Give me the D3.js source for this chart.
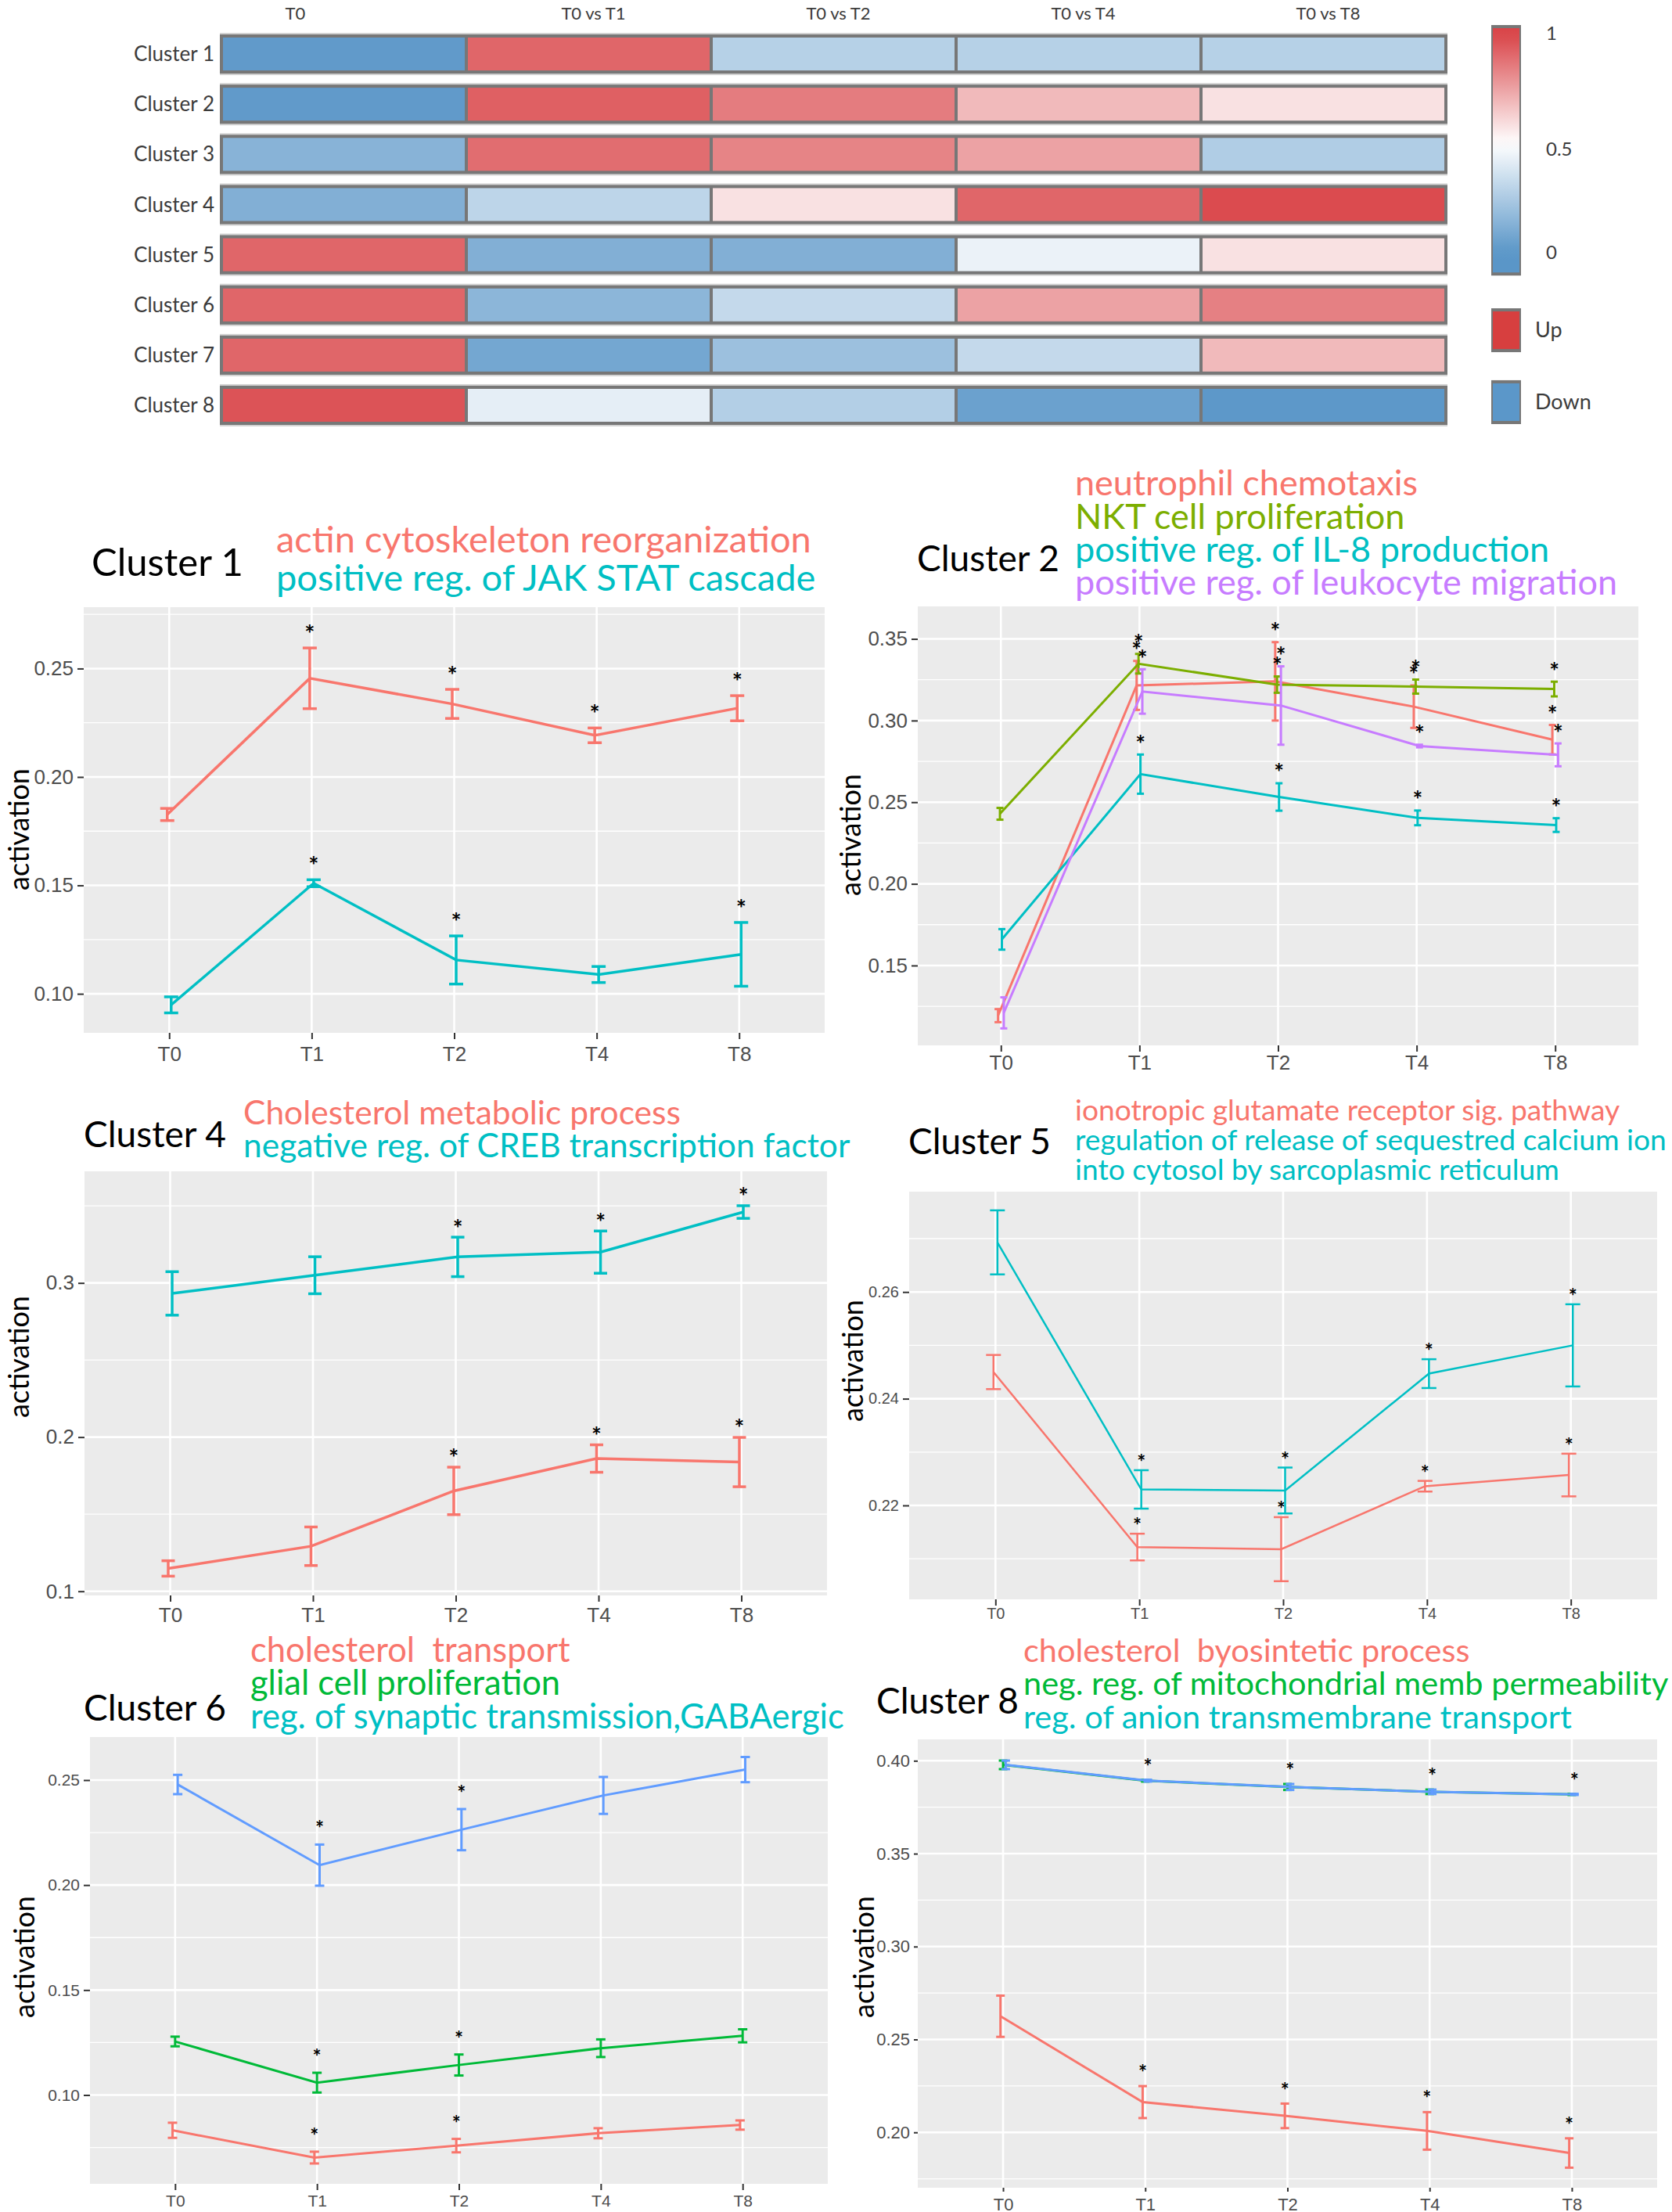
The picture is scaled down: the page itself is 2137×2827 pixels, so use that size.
<!DOCTYPE html>
<html>
<head>
<meta charset="utf-8">
<script src="https://cdn.jsdelivr.net/npm/d3@7"></script>
<style>
  body { margin: 0; background: #fff; }
  text { font-family: Lato, "Open Sans", sans-serif; white-space: pre; }
  .axis text { font-family: "Liberation Sans", Arial, sans-serif; fill: #4d4d4d; }
  .axis line { stroke: #333; stroke-width: 2; }
</style>
</head>
<body>
<svg id="fig" width="2137" height="2827"></svg>
<script>
'use strict'

// ---- heatmap data ----
var hmCols = ['T0', 'T0 vs T1', 'T0 vs T2', 'T0 vs T4', 'T0 vs T8']
var hmRows = ['Cluster 1', 'Cluster 2', 'Cluster 3', 'Cluster 4', 'Cluster 5', 'Cluster 6', 'Cluster 7', 'Cluster 8']
var hmValues = [
  [0.02, 0.91, 0.28, 0.28, 0.28],
  [0.02, 0.925, 0.85, 0.685, 0.58],
  [0.14, 0.89, 0.83, 0.75, 0.26],
  [0.12, 0.30, 0.58, 0.91, 0.98],
  [0.91, 0.12, 0.12, 0.44, 0.58],
  [0.91, 0.15, 0.32, 0.75, 0.84],
  [0.91, 0.08, 0.20, 0.32, 0.685],
  [0.96, 0.42, 0.27, 0.05, 0.01]
]
var legendTicks = [0, 0.5, 1]
var legendCats = ['Up', 'Down']

// ---- line panels data ----
var times = ['T0', 'T1', 'T2', 'T4', 'T8']

var c1Labels = ['actin cytoskeleton reorganization', 'positive reg. of JAK STAT cascade']
var c1Mean = [[0.1827, 0.2455, 0.2337, 0.2192, 0.2317],
              [0.0949, 0.1510, 0.1156, 0.1089, 0.1182]]
var c1Err = [[0.0028, 0.014, 0.0067, 0.0034, 0.0058],
             [0.0037, 0.0016, 0.0111, 0.0037, 0.0147]]
var c1Stars = [[0, 1, 1, 1, 1], [0, 1, 1, 0, 1]]
var c1Ticks = [0.10, 0.15, 0.20, 0.25]

var c2Labels = ['neutrophil chemotaxis', 'NKT cell proliferation', 'positive reg. of IL-8 production', 'positive reg. of leukocyte migration']
var c2Mean = [[0.1193, 0.3215, 0.3240, 0.3085, 0.2883],
              [0.2429, 0.3348, 0.3220, 0.3208, 0.3193],
              [0.1660, 0.2672, 0.2532, 0.2404, 0.2360],
              [0.1210, 0.3178, 0.3092, 0.2844, 0.2790]]
var c2Err = [[0.004, 0.015, 0.024, 0.013, 0.009],
             [0.0036, 0.006, 0.005, 0.0043, 0.0045],
             [0.0063, 0.012, 0.0084, 0.0045, 0.0042],
             [0.0095, 0.0136, 0.024, 0.0008, 0.007]]
var c2Stars = [[0, 1, 1, 1, 1], [0, 1, 1, 1, 1], [0, 1, 1, 1, 1], [0, 1, 1, 1, 1]]
var c2Ticks = [0.15, 0.20, 0.25, 0.30, 0.35]

var c4Labels = ['Cholesterol metabolic process', 'negative reg. of CREB transcription factor']
var c4Mean = [[0.1148, 0.1292, 0.1651, 0.1861, 0.1838],
              [0.2932, 0.3050, 0.3169, 0.3200, 0.3460]]
var c4Err = [[0.005, 0.0125, 0.0154, 0.0089, 0.016],
             [0.0141, 0.012, 0.0128, 0.0137, 0.0041]]
var c4Stars = [[0, 0, 1, 1, 1], [0, 0, 1, 1, 1]]
var c4Ticks = [0.1, 0.2, 0.3]

var c5Labels = ['ionotropic glutamate receptor sig. pathway', 'regulation of release of sequestred calcium ion', 'into cytosol by sarcoplasmic reticulum']
var c5Mean = [[0.2450, 0.2122, 0.2118, 0.2236, 0.2257],
              [0.2693, 0.2230, 0.2228, 0.2447, 0.2500]]
var c5Err = [[0.0032, 0.0025, 0.006, 0.001, 0.004],
             [0.006, 0.0036, 0.0043, 0.0027, 0.0077]]
var c5Stars = [[0, 1, 1, 1, 1], [0, 1, 1, 1, 1]]
var c5Ticks = [0.22, 0.24, 0.26]

var c6Labels = ['cholesterol  transport', 'glial cell proliferation', 'reg. of synaptic transmission,GABAergic']
var c6Mean = [[0.0832, 0.0702, 0.0759, 0.0818, 0.0857],
              [0.1255, 0.1059, 0.1143, 0.1223, 0.1282],
              [0.2479, 0.2095, 0.2264, 0.2427, 0.2550]]
var c6Err = [[0.0036, 0.0028, 0.0032, 0.0024, 0.0022],
             [0.0023, 0.0047, 0.005, 0.0042, 0.0031],
             [0.0046, 0.0098, 0.0098, 0.0088, 0.006]]
var c6Stars = [[0, 1, 1, 0, 0], [0, 1, 1, 0, 0], [0, 1, 1, 0, 0]]
var c6Ticks = [0.10, 0.15, 0.20, 0.25]

var c8Labels = ['cholesterol  byosintetic process', 'neg. reg. of mitochondrial memb permeability', 'reg. of anion transmembrane transport']
var c8Mean = [[0.2625, 0.2163, 0.2089, 0.2008, 0.1889],
              [0.3978, 0.3893, 0.3859, 0.3833, 0.3819],
              [0.3978, 0.3893, 0.3859, 0.3833, 0.3819]]
var c8Err = [[0.0111, 0.0086, 0.0066, 0.0101, 0.0079],
             [0.0023, 0.0005, 0.0016, 0.0012, 0.0003],
             [0.0023, 0.0005, 0.0016, 0.0012, 0.0003]]
// green and blue overlap exactly, so only one star row shows
var c8Stars = [[0, 1, 1, 1, 1], [0, 0, 0, 0, 0], [0, 1, 1, 1, 1]]
var c8Ticks = [0.20, 0.25, 0.30, 0.35, 0.40]

var RED = '#F8766D', CYAN = '#00BFC4', OLIVE = '#7CAE00', PURPLE = '#C77CFF', GREEN = '#00BA38', BLUE = '#619CFF'

// layout of each panel (pixels), data comes from arrays above
var panels = [
  {title: 'Cluster 1', mean: c1Mean, err: c1Err, stars: c1Stars, ticks: c1Ticks, fmt: '.2f',
   lines: c1Labels, lineColors: [RED, CYAN], colors: [RED, CYAN],
   box: [107, 776, 1054, 1320], yDom: [0.082, 0.2783],
   titleX: 117, titleY: 718, titleSize: 49, subX: 353, subY: [690, 739], subSize: 47,
   tickSize: 26, tickLen: 8, xPad: 10, lw: 3.5, cap: 9, starOff: 25, starSize: 31, ylab: [24, 1060]},
  {title: 'Cluster 2', mean: c2Mean, err: c2Err, stars: c2Stars, ticks: c2Ticks, fmt: '.2f',
   lines: c2Labels, lineColors: [RED, OLIVE, CYAN, PURPLE], colors: [RED, OLIVE, CYAN, PURPLE],
   box: [1173, 775, 2094, 1336], yDom: [0.1011, 0.3699],
   titleX: 1172, titleY: 713, titleSize: 46, subX: 1374, subY: [618, 661, 703, 745], subSize: 45,
   tickSize: 26, tickLen: 8, xPad: 5, lw: 3, cap: 4.5, starOff: 20, starSize: 30, ylab: [1087, 1067]},
  {title: 'Cluster 4', mean: c4Mean, err: c4Err, stars: c4Stars, ticks: c4Ticks, fmt: '.1f',
   lines: c4Labels, lineColors: [RED, CYAN], colors: [RED, CYAN],
   box: [108, 1497, 1057, 2039], yDom: [0.0973, 0.3724],
   titleX: 107, titleY: 1449, titleSize: 46, subX: 311, subY: [1423, 1465], subSize: 42.5,
   tickSize: 26, tickLen: 8, xPad: 8, lw: 3.5, cap: 8.5, starOff: 18, starSize: 30, ylab: [24, 1734]},
  {title: 'Cluster 5', mean: c5Mean, err: c5Err, stars: c5Stars, ticks: c5Ticks, fmt: '.2f',
   lines: c5Labels, lineColors: [RED, CYAN, CYAN], colors: [RED, CYAN],
   box: [1162, 1523, 2118, 2044], yDom: [0.2024, 0.2788],
   titleX: 1161, titleY: 1458, titleSize: 46, subX: 1374, subY: [1420, 1458, 1496], subSize: 37.2,
   tickSize: 20, tickLen: 8, xPad: 3, lw: 2.5, cap: 9.5, starOff: 16, starSize: 26, ylab: [1090, 1739]},
  {title: 'Cluster 6', mean: c6Mean, err: c6Err, stars: c6Stars, ticks: c6Ticks, fmt: '.2f',
   lines: c6Labels, lineColors: [RED, GREEN, CYAN], colors: [RED, GREEN, BLUE],
   box: [115, 2220, 1058, 2791], yDom: [0.0577, 0.2705],
   titleX: 107, titleY: 2182, titleSize: 46, subX: 320, subY: [2110, 2152, 2195], subSize: 43.5,
   tickSize: 21, tickLen: 8, xPad: 6, lw: 3, cap: 6, starOff: 26, starSize: 26, ylab: [31, 2501]},
  {title: 'Cluster 8', mean: c8Mean, err: c8Err, stars: c8Stars, ticks: c8Ticks, fmt: '.2f',
   lines: c8Labels, lineColors: [RED, GREEN, CYAN], colors: [RED, GREEN, BLUE],
   box: [1173, 2223, 2118, 2796], yDom: [0.1702, 0.4115],
   titleX: 1120, titleY: 2173, titleSize: 46, subX: 1308, subY: [2110, 2152, 2195], subSize: 41.5,
   tickSize: 22, tickLen: 5, xPad: 8, lw: 3, cap: 5.5, starOff: 23, starSize: 26, ylab: [1104, 2501]}
]

var svg = d3.select('#fig')
svg.append('rect').attr('width', 2137).attr('height', 2827).attr('fill', '#fff')

// ================= heatmap =================
var hx = d3.scaleBand().domain(hmCols).range([283, 1848])
var hy = d3.scaleBand().domain(hmRows).range([44, 543]).paddingInner(0.22)
var hcolor = d3.scaleLinear().domain([0, 0.5, 1]).range(['#5a96c8', '#ffffff', '#d94448']).clamp(true)

var hm = svg.append('g')

// the first column label sits left of its column in the original
hm.selectAll('.collab')
  .data(hmCols)
  .enter().append('text')
    .attr('x', (d, i) => hx(d) + hx.bandwidth() / 2 + (i === 0 ? -62 : 6))
    .attr('y', 17)
    .attr('dy', '0.35em')
    .attr('text-anchor', 'middle')
    .attr('font-size', 22)
    .attr('fill', '#3b3b3b')
    .text(d => d)

var rows = hm.selectAll('.hrow')
  .data(hmRows)
  .enter().append('g')
    .attr('transform', d => 'translate(0,' + hy(d) + ')')

rows.append('rect')
  .attr('x', 281).attr('y', -2)
  .attr('width', 1569).attr('height', hy.bandwidth() + 4)
  .attr('fill', '#d2d2d2')
rows.append('rect')
  .attr('x', 281).attr('y', 0)
  .attr('width', 1569).attr('height', hy.bandwidth())
  .attr('fill', '#777')
rows.append('text')
  .attr('x', 274)
  .attr('y', hy.bandwidth() / 2)
  .attr('dy', '0.35em')
  .attr('text-anchor', 'end')
  .attr('font-size', 26)
  .attr('fill', '#3b3b3b')
  .text(d => d)

rows.each(function (r, i) {
  d3.select(this).selectAll('.cell')
    .data(hmValues[i])
    .enter().append('rect')
      .attr('x', (v, j) => hx(hmCols[j]) + 2)
      .attr('y', 4)
      .attr('width', hx.bandwidth() - 4)
      .attr('height', hy.bandwidth() - 8)
      .attr('fill', v => hcolor(v))
})

// colour bar legend
var ly = d3.scaleLinear().domain([0, 1]).range([323, 43])
var grad = svg.append('defs').append('linearGradient')
  .attr('id', 'cbar').attr('x1', 0).attr('x2', 0).attr('y1', 1).attr('y2', 0)
var gradVals = d3.range(0, 21).map(i => -0.09 + i * (1.025 + 0.09) / 20)
grad.selectAll('stop')
  .data(gradVals)
  .enter().append('stop')
    .attr('offset', (d, i) => i / 20)
    .attr('stop-color', d => hcolor(d))

svg.append('rect')
  .attr('x', 1906).attr('y', ly(1.025) - 4)
  .attr('width', 38).attr('height', ly(-0.09) - ly(1.025) + 8)
  .attr('fill', '#777')
svg.append('rect')
  .attr('x', 1908).attr('y', ly(1.025))
  .attr('width', 34).attr('height', ly(-0.09) - ly(1.025))
  .attr('fill', 'url(#cbar)')
svg.selectAll('.ltick')
  .data(legendTicks)
  .enter().append('text')
    .attr('x', 1976)
    .attr('y', d => ly(d) + (d === 0.5 ? 8 : 0))
    .attr('dy', '0.35em')
    .attr('font-size', 24)
    .attr('fill', '#3b3b3b')
    .text(d => d)

var catY = d3.scaleBand().domain(legendCats).range([394, 542]).paddingInner(0.39)
var catColor = d3.scaleOrdinal().domain(legendCats).range(['#d73f3f', '#5b97c9'])
var cats = svg.selectAll('.lcat')
  .data(legendCats)
  .enter().append('g')
    .attr('transform', d => 'translate(1906,' + catY(d) + ')')
cats.append('rect')
  .attr('width', 38).attr('height', catY.bandwidth())
  .attr('fill', '#777')
cats.append('rect')
  .attr('x', 2).attr('y', 4)
  .attr('width', 34).attr('height', catY.bandwidth() - 8)
  .attr('fill', d => catColor(d))
cats.append('text')
  .attr('x', 56)
  .attr('y', catY.bandwidth() / 2)
  .attr('dy', '0.35em')
  .attr('font-size', 27)
  .attr('fill', '#3b3b3b')
  .text(d => d)

// ================= line panels =================
panels.forEach(drawPanel)

function drawPanel(p) {
  var x0 = p.box[0], y0 = p.box[1], x1 = p.box[2], y1 = p.box[3]
  var x = d3.scalePoint().domain(times).range([x0, x1]).padding(0.6)
  var y = d3.scaleLinear().domain(p.yDom).range([y1, y0])
  var n = p.mean.length
  var dodge = i => (i - (n - 1) / 2) * 0.055 / n * x.step()

  var g = svg.append('g')

  // title + coloured term names
  g.append('text')
    .attr('x', p.titleX)
    .attr('y', p.titleY + 0.36 * p.titleSize)
    .attr('font-size', p.titleSize)
    .attr('fill', '#000')
    .text(p.title)

  g.selectAll('.sub')
    .data(p.lines)
    .enter().append('text')
      .attr('x', p.subX)
      .attr('y', (d, i) => p.subY[i] + 0.33 * p.subSize)
      .attr('font-size', p.subSize)
      .attr('fill', (d, i) => p.lineColors[i])
      .text(d => d)

  // panel background and grid
  g.append('rect')
    .attr('x', x0).attr('y', y0)
    .attr('width', x1 - x0).attr('height', y1 - y0)
    .attr('fill', '#ebebeb')

  var step = p.ticks[1] - p.ticks[0]
  var minor = d3.range(p.ticks[0] - step / 2, p.yDom[1], step).filter(v => v > p.yDom[0])
  g.selectAll('.minor')
    .data(minor)
    .enter().append('line')
      .attr('x1', x0).attr('x2', x1)
      .attr('y1', d => y(d)).attr('y2', d => y(d))
      .attr('stroke', '#fff').attr('stroke-width', 1.3)
  g.selectAll('.major')
    .data(p.ticks)
    .enter().append('line')
      .attr('x1', x0).attr('x2', x1)
      .attr('y1', d => y(d)).attr('y2', d => y(d))
      .attr('stroke', '#fff').attr('stroke-width', 2.6)
  g.selectAll('.vgrid')
    .data(times)
    .enter().append('line')
      .attr('x1', d => x(d)).attr('x2', d => x(d))
      .attr('y1', y0).attr('y2', y1)
      .attr('stroke', '#fff').attr('stroke-width', 2.6)

  // axes
  var ya = g.append('g').attr('class', 'axis')
    .attr('transform', 'translate(' + x0 + ',0)')
    .call(d3.axisLeft(y).tickValues(p.ticks).tickFormat(d3.format(p.fmt)).tickSize(p.tickLen).tickPadding(5))
  ya.select('.domain').remove()
  ya.selectAll('text').attr('font-size', p.tickSize)

  var xa = g.append('g').attr('class', 'axis')
    .attr('transform', 'translate(0,' + y1 + ')')
    .call(d3.axisBottom(x).tickSize(p.tickLen).tickPadding(p.xPad))
  xa.select('.domain').remove()
  xa.selectAll('text').attr('font-size', p.tickSize)

  g.append('text')
    .attr('transform', 'translate(' + p.ylab[0] + ',' + p.ylab[1] + ') rotate(-90)')
    .attr('text-anchor', 'middle')
    .attr('dy', '0.35em')
    .attr('font-family', '"Liberation Sans", Arial, sans-serif')
    .attr('font-size', 36)
    .attr('fill', '#000')
    .text('activation')

  // series
  var line = d3.line()
  p.mean.forEach(function (m, i) {
    var col = p.colors[i]
    var off = dodge(i)
    var pts = m.map((v, j) => ({x: x(times[j]) + off, v: v, e: p.err[i][j], s: p.stars[i][j]}))
    var sg = g.append('g')

    sg.append('path')
      .attr('d', line(pts.map(d => [d.x, y(d.v)])))
      .attr('fill', 'none')
      .attr('stroke', col)
      .attr('stroke-width', p.lw)

    var eb = sg.selectAll('.eb')
      .data(pts)
      .enter().append('g')
    eb.append('line')
      .attr('x1', d => d.x).attr('x2', d => d.x)
      .attr('y1', d => y(d.v - d.e)).attr('y2', d => y(d.v + d.e))
      .attr('stroke', col).attr('stroke-width', p.lw)
    eb.append('line')
      .attr('x1', d => d.x - p.cap).attr('x2', d => d.x + p.cap)
      .attr('y1', d => y(d.v + d.e)).attr('y2', d => y(d.v + d.e))
      .attr('stroke', col).attr('stroke-width', p.lw)
    eb.append('line')
      .attr('x1', d => d.x - p.cap).attr('x2', d => d.x + p.cap)
      .attr('y1', d => y(d.v - d.e)).attr('y2', d => y(d.v - d.e))
      .attr('stroke', col).attr('stroke-width', p.lw)

    sg.selectAll('.star')
      .data(pts.filter(d => d.s))
      .enter().append('text')
        .attr('x', d => d.x)
        .attr('y', d => y(d.v + d.e) - p.starOff + 0.58 * p.starSize)
        .attr('text-anchor', 'middle')
        .attr('font-family', '"Liberation Sans", Arial, sans-serif')
        .attr('font-weight', 'bold')
        .attr('font-size', p.starSize)
        .attr('fill', '#000')
        .text('*')
  })
}
</script>
</body>
</html>
